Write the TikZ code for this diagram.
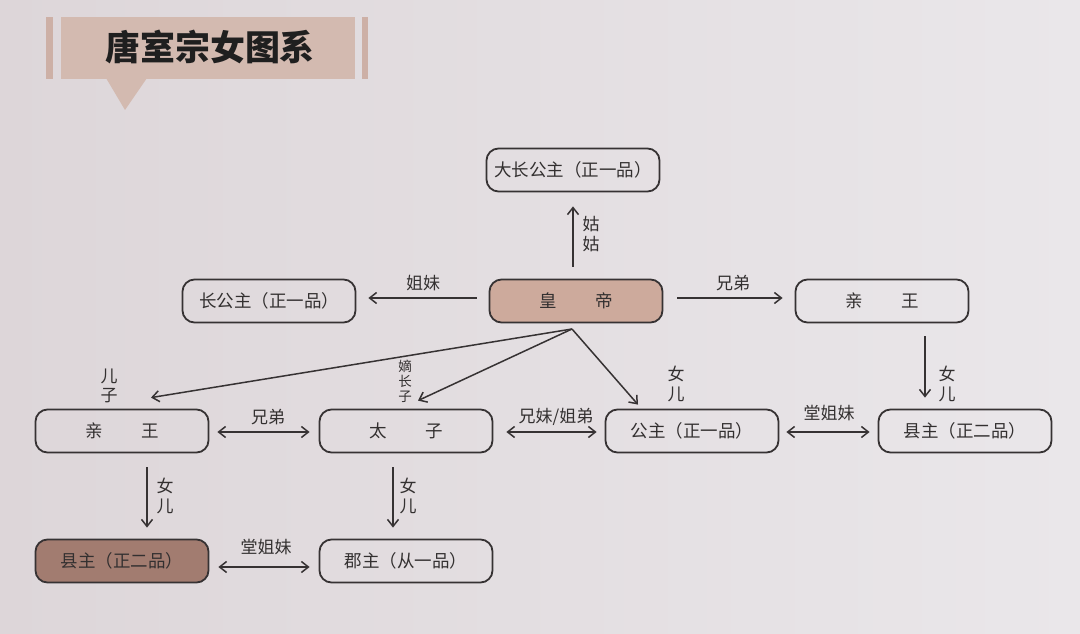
\documentclass[tikz,border=0pt]{standalone}
\usepackage{fontspec}
\newfontfamily\cjk{Noto Sans CJK SC}
\usetikzlibrary{arrows.meta,calc}
\definecolor{bgl}{HTML}{DDD6D9}
\definecolor{bgr}{HTML}{EAE7EA}
\definecolor{linec}{HTML}{363233}
\definecolor{txt}{HTML}{333030}
\definecolor{emp}{HTML}{CDAA9C}
\definecolor{empd}{HTML}{A27C70}
\definecolor{banner}{HTML}{D3BAB0}
\definecolor{bar}{HTML}{CDB0A6}
\tikzset{
  box/.style={draw=linec, line width=1.8pt, rounded corners=12pt, minimum width=173pt,
    minimum height=43pt, font=\cjk\fontsize{17.5}{20}\selectfont, text=txt, inner sep=0pt},
  arr/.style={line width=1.5pt, draw=linec, -{Straight Barb[length=7pt,width=11pt,line width=1.5pt]}},
  darr/.style={line width=1.5pt, draw=linec, {Straight Barb[length=7pt,width=11pt,line width=1.5pt]}-{Straight Barb[length=7pt,width=11pt,line width=1.5pt]}},
  lab/.style={font=\cjk\fontsize{17}{20}\selectfont, text=txt, inner sep=0pt, align=center},
  vlab/.style={font=\cjk\fontsize{17}{19.5}\selectfont, text=txt, inner sep=0pt, align=center},
  slab/.style={font=\cjk\fontsize{13.5}{15}\selectfont, text=txt, inner sep=0pt, align=center}
}
\begin{document}
\begin{tikzpicture}[x=1pt,y=-1pt]
\useasboundingbox (0,0) rectangle (1080,634);
\shade[left color=bgl, right color=bgr] (0,0) rectangle (1080,634);
% banner
\fill[bar] (46,17) rectangle (53,79);
\fill[bar] (362,17) rectangle (368,79);
\fill[banner] (61,17) rectangle (355,79);
\fill[banner] (106,78) -- (147,78) -- (125,110) -- cycle;
\node[font=\cjk\bfseries\fontsize{35}{38}\selectfont, text=black!88, inner sep=0pt] (title) at (210,47) {唐室宗女图系};
% nodes
\node[box] (dc) at (573,170) {大长公主（正一品）};
\node[box, fill=emp] (hd) at (576,301) {皇\hspace{2.2em}帝};
\node[box] (cg) at (269,301) {长公主（正一品）};
\node[box] (qr) at (882,301) {亲\hspace{2.2em}王};
\node[box] (ql) at (122,431) {亲\hspace{2.2em}王};
\node[box] (tz) at (406,431) {太\hspace{2.2em}子};
\node[box] (gz) at (692,431) {公主（正一品）};
\node[box] (xr) at (965,431) {县主（正二品）};
\node[box, fill=empd] (xl) at (122,561) {县主（正二品）};
\node[box] (jz) at (406,561) {郡主（从一品）};
% top arrows
\draw[arr] ($(hd.north)+(-3,-12)$) -- ($(dc.south)+(0,14)$);
\node[vlab] (l1) at (591,234) {姑\\姑};
\draw[arr] ($(hd.west)+(-12,-3)$) -- ($(cg.east)+(12,-3)$);
\node[lab] (l2) at (423,283) {姐妹};
\draw[arr] ($(hd.east)+(14,-3)$) -- ($(qr.west)+(-12,-3)$);
\node[lab] (l3) at (733,283) {兄弟};
% fan
\coordinate (apex) at (572,329);
\draw[arr] (apex) -- ($(ql.north)+(29,-11)$);
\draw[arr] (apex) -- ($(tz.north)+(12,-8)$);
\draw[arr] (apex) -- ($(gz.north)+(-54,-4)$);
\node[vlab] (l4) at (109,386) {儿\\子};
\node[slab] (l5) at (405,381) {嫡\\长\\子};
\node[vlab] (l6) at (676,384) {女\\儿};
% right vertical
\draw[arr] ($(qr.south)+(43,13)$) -- ($(xr.north)+(-40,-11)$);
\node[vlab] (l7) at (947,384) {女\\儿};
% middle row
\draw[darr] ($(ql.east)+(8,1)$) -- ($(tz.west)+(-9,1)$);
\node[lab] (l8) at (268,417) {兄弟};
\draw[darr] ($(tz.east)+(13,1)$) -- ($(gz.west)+(-8,1)$);
\node[lab] (l9) at (556,417) {兄妹/姐弟};
\draw[darr] ($(gz.east)+(7,1)$) -- ($(xr.west)+(-8,1)$);
\node[lab] (l10) at (829,413) {堂姐妹};
% lower
\draw[arr] ($(ql.south)+(25,14)$) -- ($(xl.north)+(25,-11)$);
\node[vlab] (l11) at (165,496) {女\\儿};
\draw[arr] ($(tz.south)+(-13,14)$) -- ($(jz.north)+(-13,-11)$);
\node[vlab] (l12) at (408,496) {女\\儿};
\draw[darr] ($(xl.east)+(9,6)$) -- ($(jz.west)+(-9,6)$);
\node[lab] (l13) at (266,547) {堂姐妹};
\end{tikzpicture}
\end{document}
